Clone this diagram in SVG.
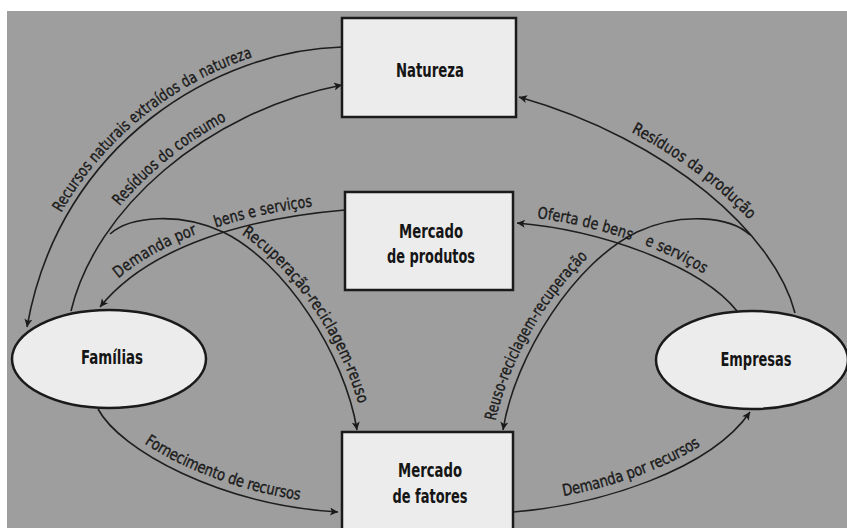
<svg xmlns="http://www.w3.org/2000/svg" xmlns:xlink="http://www.w3.org/1999/xlink" width="847" height="528" viewBox="0 0 847 528">
<style>
.bg{fill:#9e9e9e}
.box{fill:#ececec;stroke:#1a1a1a;stroke-width:2.5}
.node{font-family:"DejaVu Sans Condensed","Liberation Sans Narrow","Liberation Sans",sans-serif;font-weight:bold;font-size:20px;fill:#151515;text-anchor:middle}
.ln{fill:none;stroke:#1e1e1e;stroke-width:1.6}
.lbl{font-family:"DejaVu Sans Condensed","Liberation Sans Narrow","Liberation Sans",sans-serif;font-size:16px;fill:#1a1a1a;stroke:#1a1a1a;stroke-width:0.35}
</style>
<defs>
<marker id="arr" viewBox="0 0 10 10" refX="10" refY="5" markerWidth="11" markerHeight="8" markerUnits="userSpaceOnUse" orient="auto">
<path d="M0,0 L10,5 L0,10 L2.5,5 z" fill="#1a1a1a"/>
</marker>
<path id="t1" d="M27,327 C60,140 220,50 342,47"/>
<path id="t3" d="M100,307 C150,245 250,218 345,210"/>
<path id="t5" d="M502,430 C515,355 575,262 637,232 C680,212 730,216 750,235"/>
<path id="t6" d="M519,97 C670,140 775,235 795,313"/>
<path id="t7" d="M517,223 C600,230 700,265 737,311"/>
</defs>
<rect x="0" y="0" width="847" height="528" fill="#ffffff"/>
<rect class="bg" x="7" y="11" width="840" height="517"/>

<g id="connectors">
<path id="c1" class="ln" d="M342,47 C220,50 60,140 27,327" marker-end="url(#arr)"/>
<path id="c2" class="ln" d="M71,311 C95,210 205,112 342,85" marker-end="url(#arr)"/>
<path id="c3" class="ln" d="M345,210 C250,218 150,245 100,307" marker-end="url(#arr)"/>
<path id="c4" class="ln" d="M98,409 C120,450 220,505 338,512" marker-end="url(#arr)"/>
<path id="c5" class="ln" d="M513,512 C600,505 710,470 750,412" marker-end="url(#arr)"/>
<path id="c6" class="ln" d="M795,313 C775,235 670,140 519,97" marker-end="url(#arr)"/>
<path id="c7" class="ln" d="M737,311 C700,265 600,230 517,223" marker-end="url(#arr)"/>
<path id="c8" class="ln" d="M110,234 C130,216 180,212 223,232 C285,262 345,355 357,430" marker-end="url(#arr)"/>
<path id="c9" class="ln" d="M750,235 C730,216 680,212 637,232 C575,262 515,355 503,430" marker-end="url(#arr)"/>
</g>

<g id="labels">
<text class="lbl" dy="-6"><textPath xlink:href="#t1" href="#t1" startOffset="26%" textLength="248" lengthAdjust="spacingAndGlyphs">Recursos naturais extraídos da natureza</textPath></text>
<text class="lbl" dy="-6"><textPath xlink:href="#c2" href="#c2" startOffset="31%" textLength="136" lengthAdjust="spacingAndGlyphs">Resíduos do consumo</textPath></text>
<text class="lbl" dy="-7"><textPath xlink:href="#t3" href="#t3" startOffset="12%" textLength="89" lengthAdjust="spacingAndGlyphs">Demanda por</textPath></text>
<text class="lbl" dy="-7"><textPath xlink:href="#t3" href="#t3" startOffset="52%" textLength="98" lengthAdjust="spacingAndGlyphs">bens e serviços</textPath></text>
<text class="lbl" dy="-7"><textPath xlink:href="#c8" href="#c8" startOffset="37%" textLength="205" lengthAdjust="spacingAndGlyphs">Recuperação-reciclagem-reuso</textPath></text>
<text class="lbl" dy="-8"><textPath xlink:href="#t5" href="#t5" startOffset="2%" textLength="186" lengthAdjust="spacingAndGlyphs">Reuso-reciclagem-recuperação</textPath></text>
<text class="lbl" dy="-7"><textPath xlink:href="#t7" href="#t7" startOffset="8%" textLength="95" lengthAdjust="spacingAndGlyphs">Oferta de bens</textPath></text>
<text class="lbl" dy="-7"><textPath xlink:href="#t7" href="#t7" startOffset="53%" textLength="65" lengthAdjust="spacingAndGlyphs">e serviços</textPath></text>
<text class="lbl" dy="-9"><textPath xlink:href="#t6" href="#t6" startOffset="32%" textLength="145" lengthAdjust="spacingAndGlyphs">Resíduos da produção</textPath></text>
<text class="lbl" dy="-8"><textPath xlink:href="#c4" href="#c4" startOffset="22%" textLength="170" lengthAdjust="spacingAndGlyphs">Fornecimento de recursos</textPath></text>
<text class="lbl" dy="-9"><textPath xlink:href="#c5" href="#c5" startOffset="20%" textLength="150" lengthAdjust="spacingAndGlyphs">Demanda por recursos</textPath></text>
</g>

<g id="natureza">
<rect class="box" x="342" y="18" width="174" height="99"/>
<text class="node" x="430" y="77" textLength="68" lengthAdjust="spacingAndGlyphs">Natureza</text>
</g>
<g id="mercado-produtos">
<rect class="box" x="345" y="192" width="168" height="98"/>
<text class="node" x="431" y="238" textLength="64" lengthAdjust="spacingAndGlyphs">Mercado</text>
<text class="node" x="431" y="263" textLength="88" lengthAdjust="spacingAndGlyphs">de produtos</text>
</g>
<g id="mercado-fatores">
<rect class="box" x="342" y="432" width="171" height="100"/>
<text class="node" x="430" y="477" textLength="64" lengthAdjust="spacingAndGlyphs">Mercado</text>
<text class="node" x="430" y="503" textLength="75" lengthAdjust="spacingAndGlyphs">de fatores</text>
</g>
<g id="familias">
<ellipse class="box" cx="109" cy="359" rx="97" ry="49"/>
<text class="node" x="112" y="364" textLength="62" lengthAdjust="spacingAndGlyphs">Famílias</text>
</g>
<g id="empresas">
<ellipse class="box" cx="752" cy="360" rx="96" ry="49"/>
<text class="node" x="756" y="366" textLength="71" lengthAdjust="spacingAndGlyphs">Empresas</text>
</g>
</svg>
